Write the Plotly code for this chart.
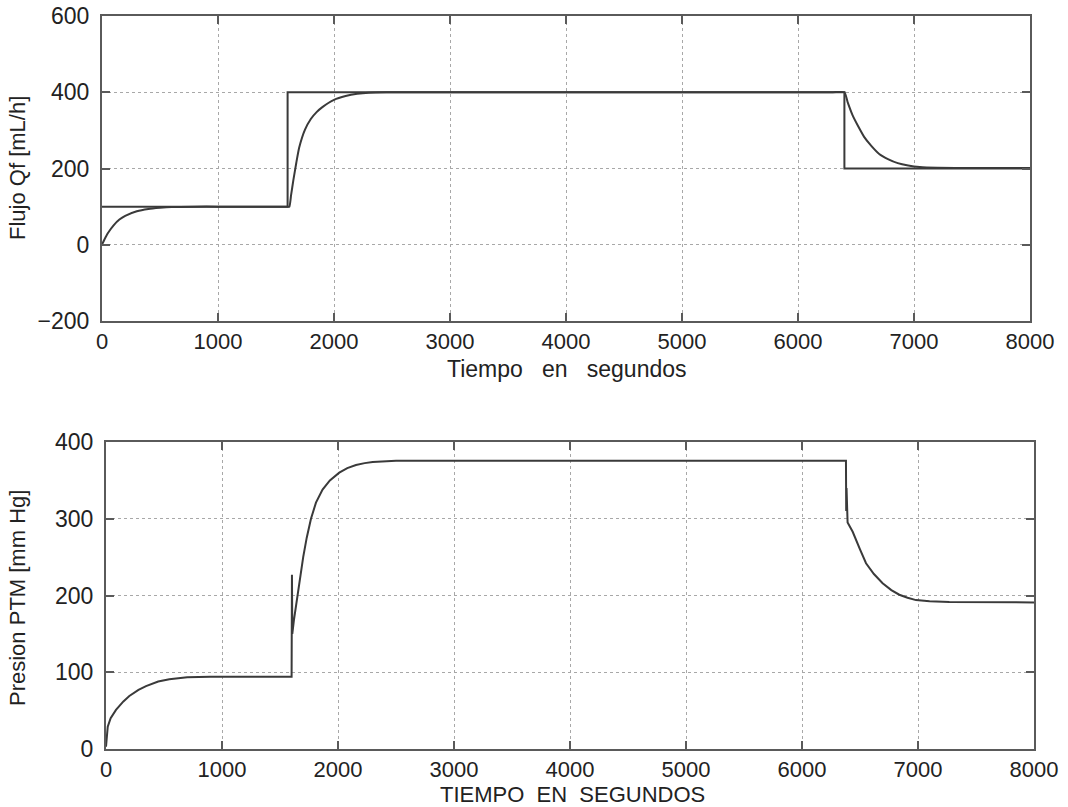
import plotly.graph_objects as go

# ---------------- data ----------------
# Top: flow set-point and response
flow_sp_t = [0, 1600, 1600, 6400, 6400, 8000]
flow_sp_v = [100, 100, 400, 400, 200, 200]

flow_t = [0, 20, 50, 100, 150, 200, 300, 400, 500, 600, 800, 1000, 1300, 1600,
          1615, 1630, 1650, 1675, 1700, 1750, 1800, 1850, 1900, 2000, 2100, 2200, 2300, 2450,
          3000, 4000, 5000, 6000, 6300, 6400,
          6430, 6470, 6520, 6570, 6630, 6700, 6780, 6860, 6950, 7050, 7200, 7500, 8000]
flow_v = [0, 13, 30, 51, 66, 76, 88, 94, 97, 99, 100, 100, 100, 100,
          100, 130, 170, 215, 255, 302, 330, 348, 361, 380, 390, 396, 399, 400,
          400, 400, 400, 400, 400, 400,
          372, 340, 310, 283, 260, 238, 224, 214, 208, 204, 202, 201, 201]

# Bottom: transmembrane pressure
pres_t = [0, 8, 15, 40, 86, 150, 201, 280, 345, 450, 546, 700, 900, 1600,
          1601, 1603, 1606, 1620, 1638, 1660, 1680, 1700, 1730, 1767, 1810, 1867, 1930, 2011,
          2080, 2155, 2230, 2299, 2500,
          6379, 6381, 6384, 6393, 6437, 6500, 6552, 6620, 6695, 6770, 6839, 6910, 6983,
          7100, 7270, 8000]
pres_v = [3, 20, 29, 40, 51, 62, 69, 77, 82, 88, 91, 93.5, 94, 94,
          145, 227, 150, 168, 186, 212, 232, 250, 275, 300, 321, 338, 350, 360,
          366, 370, 372.5, 374, 375.5,
          375.5, 310, 340, 295, 283, 260, 242, 228, 216, 207, 201, 197, 194,
          192.5, 191.5, 191]

x_ticks = [0, 1000, 2000, 3000, 4000, 5000, 6000, 7000, 8000]
flow_ticks = [-200, 0, 200, 400, 600]
pres_ticks = [0, 100, 200, 300, 400]

# ---------------- figure ----------------
W, H = 1068, 807
LINE = "#3a3a3a"
AX = "#5a5a5a"
FONT = "Liberation Sans, Arial, Helvetica, sans-serif"

fig = go.Figure()
fig.add_trace(go.Scatter(x=flow_sp_t, y=flow_sp_v, mode="lines",
                         line=dict(color=LINE, width=2), xaxis="x", yaxis="y"))
fig.add_trace(go.Scatter(x=flow_t, y=flow_v, mode="lines",
                         line=dict(color=LINE, width=2, shape="spline", smoothing=0.5),
                         xaxis="x", yaxis="y"))
fig.add_trace(go.Scatter(x=pres_t, y=pres_v, mode="lines",
                         line=dict(color=LINE, width=2), xaxis="x2", yaxis="y2"))

def xax(domain, anchor):
    return dict(domain=domain, anchor=anchor, range=[0, 8000], tickvals=x_ticks,
                ticks="inside", ticklen=8, tickwidth=1.5, tickcolor=AX,
                showline=True, linecolor=AX, linewidth=2, mirror="ticks",
                showgrid=True, gridcolor="#a8a8a8", griddash="dot", gridwidth=1,
                zeroline=False, tickfont=dict(family=FONT, size=22, color="#222"),
                ticklabelstandoff=0, automargin=False)

def yax(domain, anchor, rng, tv):
    return dict(domain=domain, anchor=anchor, range=rng, tickvals=tv,
                ticks="inside", ticklen=8, tickwidth=1.5, tickcolor=AX,
                showline=True, linecolor=AX, linewidth=2, mirror="ticks",
                showgrid=True, gridcolor="#a8a8a8", griddash="dot", gridwidth=1,
                zeroline=False, tickfont=dict(family=FONT, size=23, color="#222"),
                ticklabelstandoff=6, automargin=False)

fig.update_layout(
    width=W, height=H,
    margin=dict(l=0, r=0, t=0, b=0, autoexpand=False),
    paper_bgcolor="white", plot_bgcolor="white",
    showlegend=False,
    xaxis=xax([102 / W, 1030 / W], "y"),
    yaxis=yax([1 - 321 / H, 1 - 16 / H], "x", [-200, 600], flow_ticks),
    xaxis2=xax([106 / W, 1034 / W], "y2"),
    yaxis2=yax([1 - 749 / H, 1 - 442 / H], "x2", [0, 400], pres_ticks),
)

ann = [
    dict(text="Tiempo\u00a0\u00a0\u00a0en\u00a0\u00a0\u00a0segundos", x=567 / W, y=1 - 369 / H, size=23, angle=0),
    dict(text="TIEMPO\u00a0\u00a0EN\u00a0\u00a0SEGUNDOS", x=572 / W, y=1 - 794 / H, size=22, angle=0),
    dict(text="Flujo Qf [mL/h]", x=17 / W, y=1 - 168 / H, size=22, angle=-90),
    dict(text="Presion PTM [mm Hg]", x=17 / W, y=1 - 598 / H, size=22, angle=-90),
]
for a in ann:
    fig.add_annotation(text=a["text"], x=a["x"], y=a["y"], xref="paper", yref="paper",
                       xanchor="center", yanchor="middle", showarrow=False,
                       textangle=a["angle"], font=dict(family=FONT, size=a["size"], color="#222"))

fig.write_html("out.html")
